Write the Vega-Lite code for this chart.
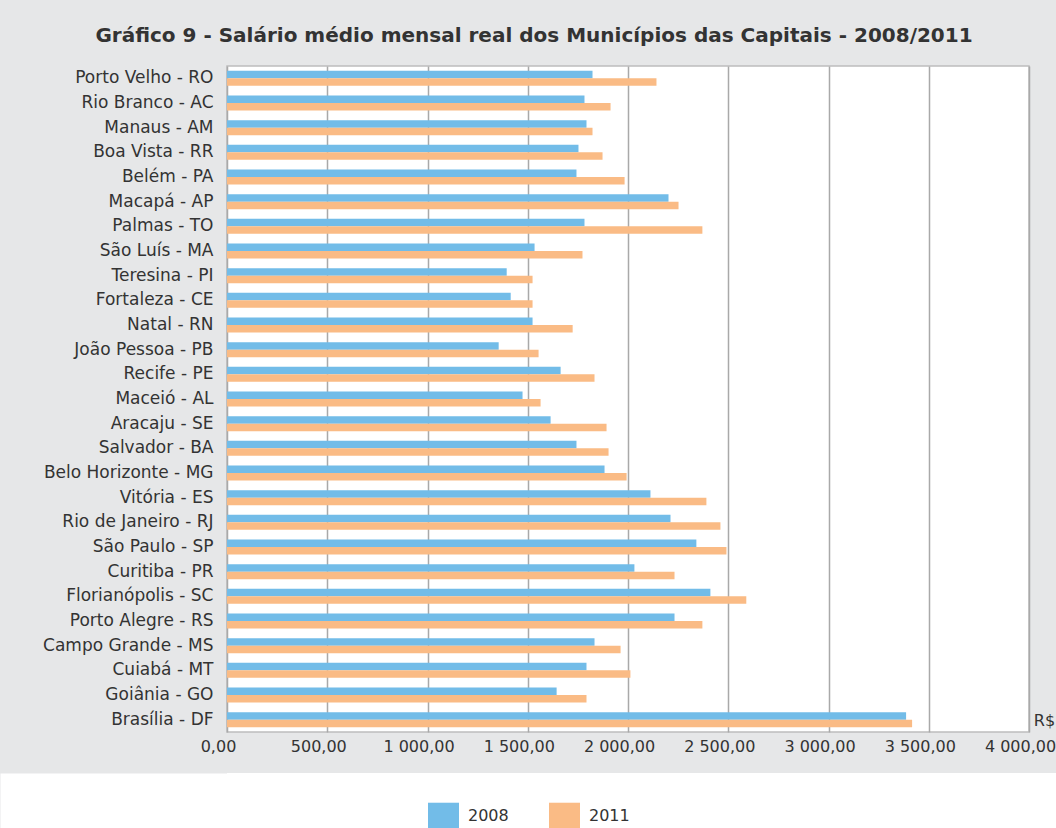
{
  "$schema": "https://vega.github.io/schema/vega-lite/v6.json",
  "background": "#e6e7e8",
  "padding": {"left": 41, "top": 25, "right": 0, "bottom": 0},
  "spacing": 18,
  "resolve": {"legend": {"color": "independent"}},
  "config": {
    "locale": {"number": {"decimal": ",", "thousands": " ", "grouping": [3], "currency": ["R$ ", ""]}},
    "font": "DejaVu Sans"
  },
  "datasets": {
    "salarios": [
      {"cidade": "Porto Velho - RO", "ano": "2008", "valor": 1823},
      {"cidade": "Porto Velho - RO", "ano": "2011", "valor": 2142},
      {"cidade": "Rio Branco - AC", "ano": "2008", "valor": 1783},
      {"cidade": "Rio Branco - AC", "ano": "2011", "valor": 1913},
      {"cidade": "Manaus - AM", "ano": "2008", "valor": 1793},
      {"cidade": "Manaus - AM", "ano": "2011", "valor": 1823},
      {"cidade": "Boa Vista - RR", "ano": "2008", "valor": 1753},
      {"cidade": "Boa Vista - RR", "ano": "2011", "valor": 1873},
      {"cidade": "Belém - PA", "ano": "2008", "valor": 1743},
      {"cidade": "Belém - PA", "ano": "2011", "valor": 1983},
      {"cidade": "Macapá - AP", "ano": "2008", "valor": 2202},
      {"cidade": "Macapá - AP", "ano": "2011", "valor": 2252},
      {"cidade": "Palmas - TO", "ano": "2008", "valor": 1783},
      {"cidade": "Palmas - TO", "ano": "2011", "valor": 2371},
      {"cidade": "São Luís - MA", "ano": "2008", "valor": 1534},
      {"cidade": "São Luís - MA", "ano": "2011", "valor": 1773},
      {"cidade": "Teresina - PI", "ano": "2008", "valor": 1395},
      {"cidade": "Teresina - PI", "ano": "2011", "valor": 1524},
      {"cidade": "Fortaleza - CE", "ano": "2008", "valor": 1415},
      {"cidade": "Fortaleza - CE", "ano": "2011", "valor": 1524},
      {"cidade": "Natal - RN", "ano": "2008", "valor": 1524},
      {"cidade": "Natal - RN", "ano": "2011", "valor": 1724},
      {"cidade": "João Pessoa - PB", "ano": "2008", "valor": 1355},
      {"cidade": "João Pessoa - PB", "ano": "2011", "valor": 1554},
      {"cidade": "Recife - PE", "ano": "2008", "valor": 1664},
      {"cidade": "Recife - PE", "ano": "2011", "valor": 1833},
      {"cidade": "Maceió - AL", "ano": "2008", "valor": 1474},
      {"cidade": "Maceió - AL", "ano": "2011", "valor": 1564},
      {"cidade": "Aracaju - SE", "ano": "2008", "valor": 1614},
      {"cidade": "Aracaju - SE", "ano": "2011", "valor": 1893},
      {"cidade": "Salvador - BA", "ano": "2008", "valor": 1743},
      {"cidade": "Salvador - BA", "ano": "2011", "valor": 1903},
      {"cidade": "Belo Horizonte - MG", "ano": "2008", "valor": 1883},
      {"cidade": "Belo Horizonte - MG", "ano": "2011", "valor": 1993},
      {"cidade": "Vitória - ES", "ano": "2008", "valor": 2112},
      {"cidade": "Vitória - ES", "ano": "2011", "valor": 2391},
      {"cidade": "Rio de Janeiro - RJ", "ano": "2008", "valor": 2212},
      {"cidade": "Rio de Janeiro - RJ", "ano": "2011", "valor": 2461},
      {"cidade": "São Paulo - SP", "ano": "2008", "valor": 2341},
      {"cidade": "São Paulo - SP", "ano": "2011", "valor": 2491},
      {"cidade": "Curitiba - PR", "ano": "2008", "valor": 2032},
      {"cidade": "Curitiba - PR", "ano": "2011", "valor": 2232},
      {"cidade": "Florianópolis - SC", "ano": "2008", "valor": 2411},
      {"cidade": "Florianópolis - SC", "ano": "2011", "valor": 2590},
      {"cidade": "Porto Alegre - RS", "ano": "2008", "valor": 2232},
      {"cidade": "Porto Alegre - RS", "ano": "2011", "valor": 2371},
      {"cidade": "Campo Grande - MS", "ano": "2008", "valor": 1833},
      {"cidade": "Campo Grande - MS", "ano": "2011", "valor": 1963},
      {"cidade": "Cuiabá - MT", "ano": "2008", "valor": 1793},
      {"cidade": "Cuiabá - MT", "ano": "2011", "valor": 2012},
      {"cidade": "Goiânia - GO", "ano": "2008", "valor": 1644},
      {"cidade": "Goiânia - GO", "ano": "2011", "valor": 1793},
      {"cidade": "Brasília - DF", "ano": "2008", "valor": 3387},
      {"cidade": "Brasília - DF", "ano": "2011", "valor": 3417}
    ],
    "legenda": [
      {"ano": "2008"},
      {"ano": "2011"}
    ]
  },
  "vconcat": [
    {
      "width": 802,
      "height": 666,
      "title": {
        "text": "Gráfico 9 - Salário médio mensal real dos Municípios das Capitais - 2008/2011",
        "frame": "group",
        "anchor": "middle",
        "dx": -94,
        "offset": 20,
        "fontSize": 20,
        "font": "DejaVu Sans",
        "fontWeight": "bold",
        "color": "#333333"
      },
      "view": {"fill": "white", "stroke": "#bdbdbd", "strokeWidth": 1.5},
      "data": {"name": "salarios"},
      "mark": {"type": "bar"},
      "encoding": {
        "y": {
          "field": "cidade",
          "type": "nominal",
          "sort": null,
          "scale": {"paddingInner": 0.392, "paddingOuter": 0.196},
          "axis": {
            "title": null,
            "ticks": false,
            "domain": false,
            "labelPadding": 14,
            "labelFontSize": 17,
            "labelFont": "DejaVu Sans",
            "labelColor": "#333333",
            "labelLimit": 300
          }
        },
        "yOffset": {"field": "ano", "type": "nominal", "sort": ["2008", "2011"]},
        "x": {
          "field": "valor",
          "type": "quantitative",
          "scale": {"domain": [0, 4000], "nice": false},
          "axis": {
            "values": [0, 500, 1000, 1500, 2000, 2500, 3000, 3500, 4000],
            "format": ",.2f",
            "grid": true,
            "gridColor": "#a9a9a9",
            "gridWidth": 1.5,
            "domain": false,
            "ticks": false,
            "labelFlush": false,
            "labelPadding": 6,
            "labelOffset": -9,
            "labelFontSize": 16,
            "labelFont": "DejaVu Sans",
            "labelColor": "#333333",
            "title": "R$",
            "titleFont": "DejaVu Sans",
            "titleFontSize": 16,
            "titleFontWeight": "normal",
            "titleColor": "#333333",
            "titleX": 817,
            "titleY": -12,
            "titleAlign": "center",
            "titleBaseline": "middle"
          }
        },
        "color": {
          "field": "ano",
          "type": "nominal",
          "scale": {"domain": ["2008", "2011"], "range": ["#72bce8", "#fabb85"]},
          "legend": null
        }
      }
    },
    {
      "width": 829,
      "height": 56,
      "view": {"fill": "white", "stroke": null},
      "data": {"name": "legenda"},
      "mark": {"type": "text"},
      "encoding": {
        "text": {"value": ""},
        "y": {
          "field": "ano",
          "type": "nominal",
          "axis": {
            "title": null,
            "labels": false,
            "ticks": false,
            "grid": false,
            "domain": true,
            "domainColor": "white",
            "domainWidth": 454,
            "domainCap": "butt"
          }
        },
        "color": {
          "field": "ano",
          "type": "nominal",
          "scale": {"domain": ["2008", "2011"], "range": ["#72bce8", "#fabb85"]},
          "legend": {
            "orient": "none",
            "direction": "horizontal",
            "legendX": 201,
            "legendY": 27,
            "title": null,
            "padding": 0,
            "symbolType": "M-1,-0.84H1V0.84H-1Z",
            "symbolSize": 961,
            "symbolStrokeWidth": 0,
            "symbolOpacity": 1,
            "labelFont": "DejaVu Sans",
            "labelFontSize": 16,
            "labelColor": "#333333",
            "labelOffset": 9,
            "columnPadding": 40
          }
        }
      }
    }
  ]
}
